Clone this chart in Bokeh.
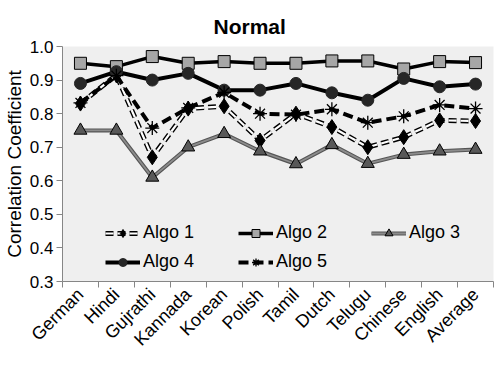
import numpy as np
from bokeh.plotting import figure
from bokeh.models import FixedTicker, Legend, LegendItem, Range1d, NumeralTickFormatter
from bokeh.embed import file_html
from bokeh.resources import INLINE

languages = ["German", "Hindi", "Gujrathi", "Kannada", "Korean", "Polish",
             "Tamil", "Dutch", "Telugu", "Chinese", "English", "Average"]
algo1 = [0.83, 0.915, 0.67, 0.815, 0.822, 0.72, 0.80, 0.76, 0.70, 0.73, 0.78, 0.778]
algo2 = [0.95, 0.94, 0.97, 0.95, 0.955, 0.95, 0.95, 0.957, 0.957, 0.933, 0.955, 0.952]
algo3 = [0.75, 0.75, 0.61, 0.70, 0.74, 0.688, 0.65, 0.707, 0.651, 0.678, 0.688, 0.693]
algo4 = [0.89, 0.925, 0.90, 0.92, 0.87, 0.87, 0.89, 0.862, 0.84, 0.905, 0.88, 0.888]
algo5 = [0.832, 0.913, 0.757, 0.817, 0.863, 0.80, 0.797, 0.813, 0.773, 0.792, 0.826, 0.815]
y_ticks = [0.3, 0.4, 0.5, 0.6, 0.7, 0.8, 0.9, 1.0]

x = list(range(len(languages)))
FONT = "Liberation Sans"

p = figure(frame_width=431, frame_height=235, output_backend="svg", toolbar_location=None,
           x_range=Range1d(-0.5, len(languages) - 0.5), y_range=Range1d(0.3, 1.0),
           min_border_left=50, min_border_right=1, min_border_top=46, min_border_bottom=70,
           background_fill_color="#efefef", border_fill_color="white")
p.outline_line_color = None
p.grid.visible = False

p.title.text = "Normal"
p.title.align = "left"
p.title.offset = 151
p.title.standoff = 17
p.title.text_font = FONT
p.title.text_font_size = "21px"
p.title.text_font_style = "bold"
p.title.text_color = "black"

# Algo 1
a1_outer = p.line(x, algo1, line_color="black", line_width=5, line_dash="8 4")
a1_inner = p.line(x, algo1, line_color="white", line_width=2.2, line_dash="8 4")
a1_mark = p.scatter(x, algo1, marker="diamond", size=15, fill_color="black", line_color="black")
# Algo 2
a2_line = p.line(x, algo2, line_color="black", line_width=3.5)
a2_mark = p.scatter(x, algo2, marker="square", size=12, fill_color="#a6a6a6", line_color="black", line_width=1)
# Algo 3
a3_outer = p.line(x, algo3, line_color="#555555", line_width=4)
a3_inner = p.line(x, algo3, line_color="#8c8c8c", line_width=1.8)
a3_mark = p.scatter(x, algo3, marker="triangle", size=13, fill_color="#595959", line_color="black", line_width=1)
# Algo 4
a4_line = p.line(x, algo4, line_color="black", line_width=4)
a4_mark = p.scatter(x, algo4, marker="circle", size=12, fill_color="#262626", line_color="#262626")
# Algo 5
a5_line = p.line(x, algo5, line_color="black", line_width=4, line_dash="10 5")
a5_mark = p.scatter(x, algo5, marker="asterisk", size=14, line_color="black", line_width=1.3)

# axes
p.xaxis.ticker = FixedTicker(ticks=x, minor_ticks=[i - 0.5 for i in range(len(languages) + 1)])
p.xaxis.major_label_overrides = {i: lab for i, lab in enumerate(languages)}
p.xaxis.major_label_orientation = np.pi / 4
p.xaxis.major_tick_out = 0
p.xaxis.major_tick_in = 0
p.xaxis.minor_tick_out = 6
p.xaxis.minor_tick_in = 0
p.xaxis.minor_tick_line_color = "#868686"
p.yaxis.ticker = FixedTicker(ticks=y_ticks)
p.yaxis.formatter = NumeralTickFormatter(format="0.0")
p.yaxis.major_tick_out = 6
p.yaxis.major_tick_in = 0
p.yaxis.minor_tick_line_color = None
p.yaxis.axis_label = "Correlation Coefficient"
p.yaxis.axis_label_text_font = FONT
p.yaxis.axis_label_text_font_size = "19px"
p.yaxis.axis_label_text_font_style = "normal"
p.yaxis.axis_label_text_color = "black"
p.yaxis.axis_label_standoff = 2
p.yaxis.major_label_standoff = 3
for ax in (p.xaxis, p.yaxis):
    ax.axis_line_color = "#868686"
    ax.major_tick_line_color = "#868686"
    ax.major_label_text_font = FONT
    ax.major_label_text_color = "black"
p.yaxis.major_label_text_font_size = "17px"
p.xaxis.major_label_text_font_size = "18px"
p.xaxis.major_label_standoff = 4

legend = Legend(items=[
    LegendItem(label="Algo 1", renderers=[a1_outer, a1_inner, a1_mark]),
    LegendItem(label="Algo 4", renderers=[a4_line, a4_mark]),
    LegendItem(label="Algo 2", renderers=[a2_line, a2_mark]),
    LegendItem(label="Algo 5", renderers=[a5_line, a5_mark]),
    LegendItem(label="Algo 3", renderers=[a3_outer, a3_inner, a3_mark]),
], ncols=3, location=(43, 9), background_fill_alpha=0, border_line_color=None,
    glyph_width=35, glyph_height=20, label_standoff=3, label_width=87, spacing=8,
    padding=2, margin=0, label_text_font=FONT, label_text_font_size="18px",
    label_text_color="black")
p.add_layout(legend, "center")

open("out.html", "w").write(file_html(p, INLINE))
